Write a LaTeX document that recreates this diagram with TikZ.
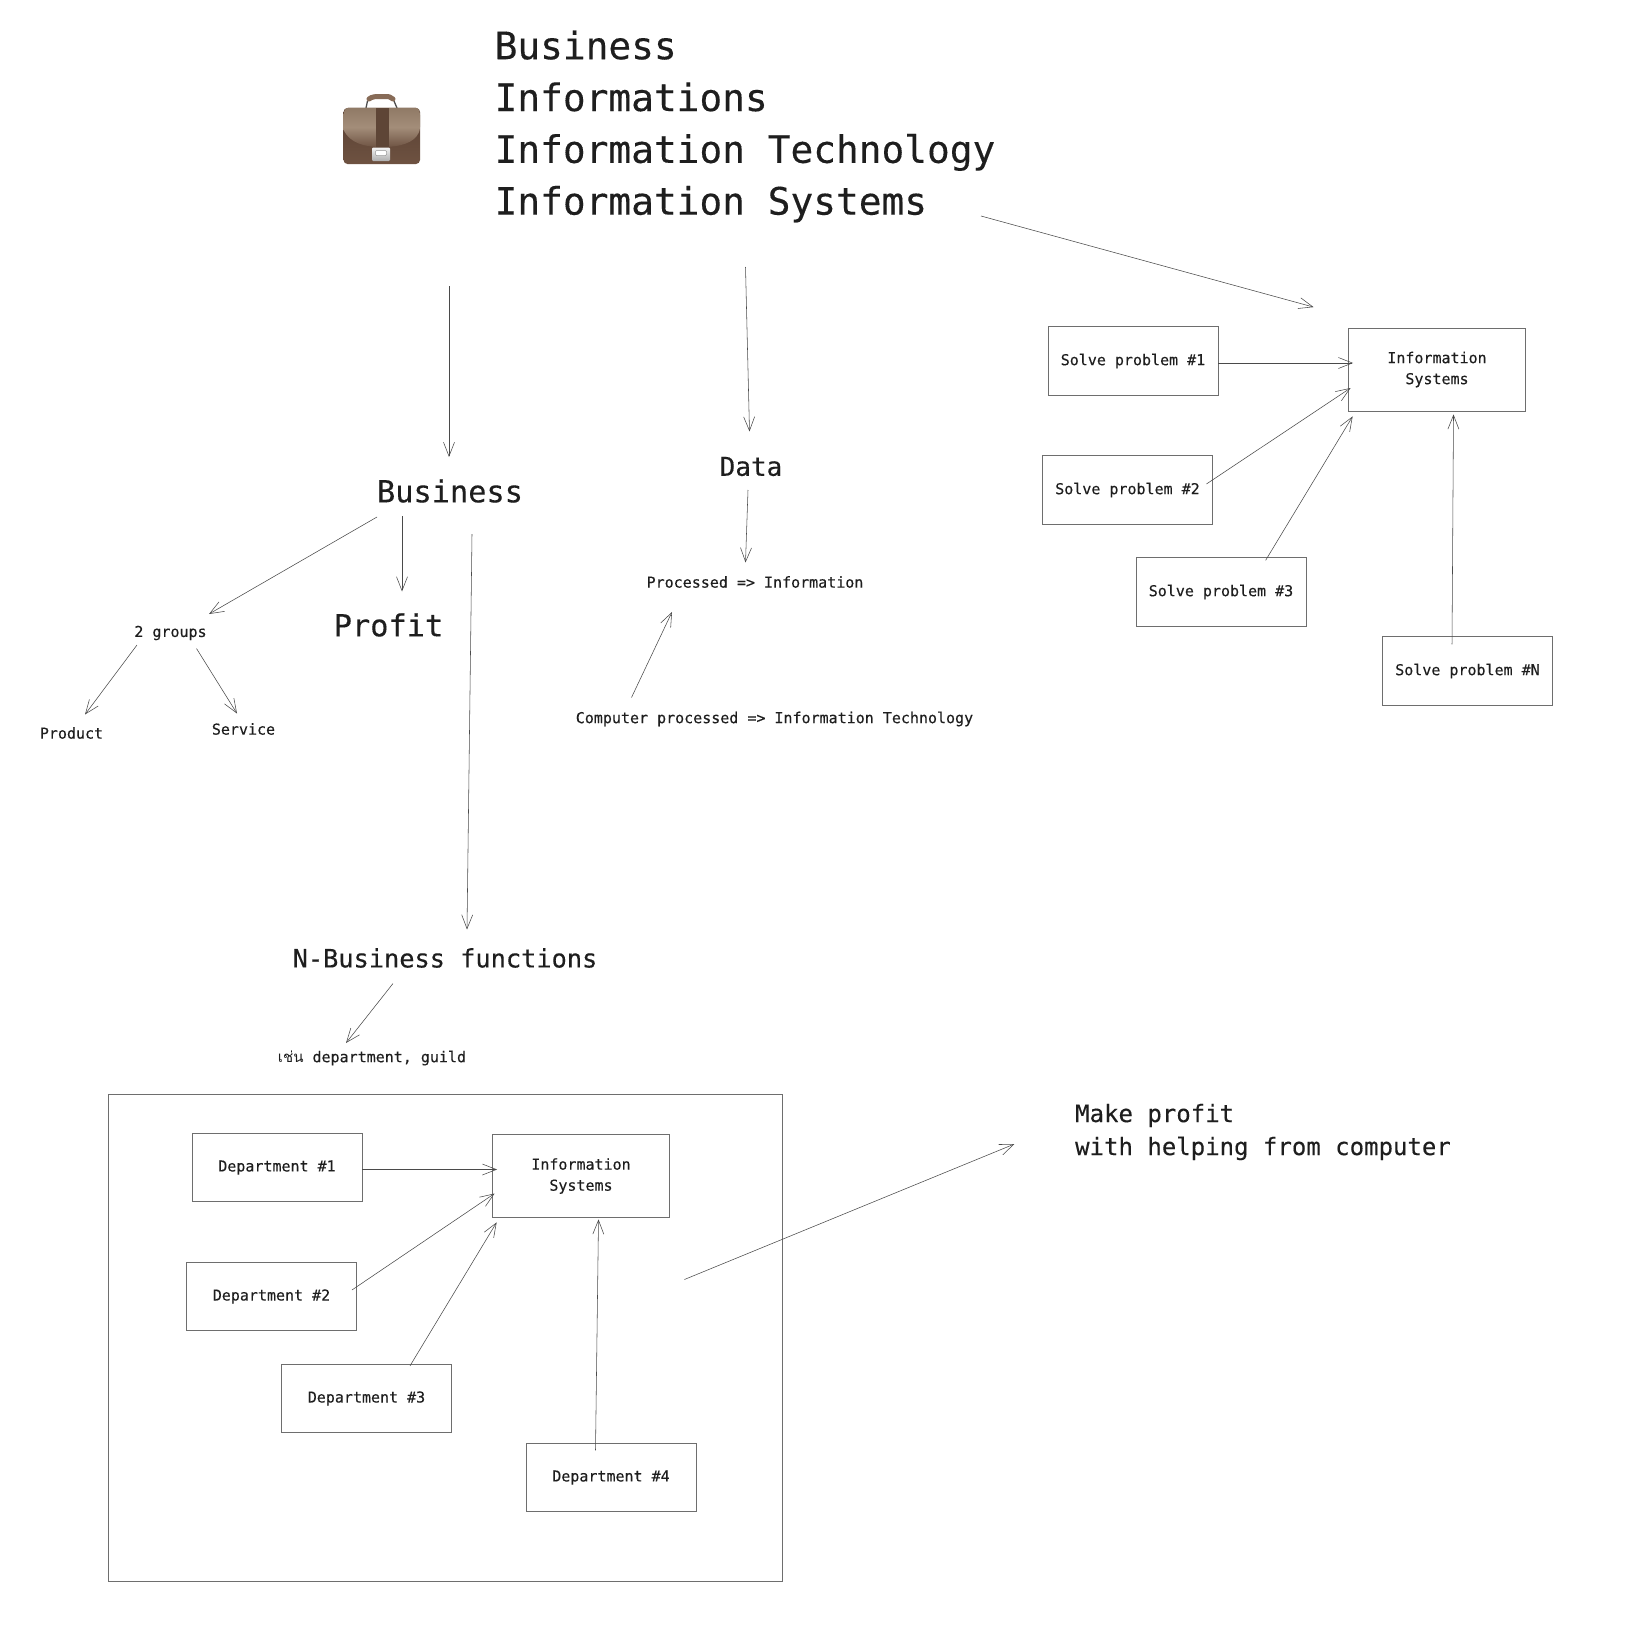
\documentclass[tikz,border=0pt]{standalone}
\usepackage{fontspec}
\setmainfont[FakeBold=0.25]{DejaVu Sans Mono}
\newfontfamily\thaifont[Script=Thai]{Loma}
\usetikzlibrary{arrows.meta}
\definecolor{ink}{HTML}{1E1E1E}
\definecolor{edge}{HTML}{4A4A4A}
\definecolor{boxline}{HTML}{6E6E6E}
\definecolor{caseTop}{HTML}{8F7966}
\definecolor{caseMid}{HTML}{A38D79}
\definecolor{caseFlap}{HTML}{6F5444}
\definecolor{caseLow}{HTML}{583F32}
\definecolor{caseBot}{HTML}{6E5241}
\definecolor{caseStrap}{HTML}{5E4536}
\definecolor{caseHandle}{HTML}{876B57}
\tikzset{
  x=1pt,y=-1pt,
  lbl/.style={inner sep=0pt,text=ink,align=center},
  fxxl/.style={font=\fontsize{37.8}{51.8}\selectfont},
  fxl/.style={font=\fontsize{30.3}{36}\selectfont},
  fl/.style={font=\fontsize{26}{32}\selectfont},
  fm/.style={font=\fontsize{25.3}{30}\selectfont},
  fn/.style={font=\fontsize{24}{33}\selectfont},
  fs/.style={font=\fontsize{15}{21}\selectfont},
  card/.style={draw=boxline,line width=0.8pt,inner sep=0pt,text=ink,align=center,font=\fontsize{15}{21}\selectfont,minimum width=170pt,minimum height=68.5pt},
  iscard/.style={card,minimum width=177pt,minimum height=83pt},
  arr/.style={draw=edge,line width=0.55pt,-{Straight Barb[length=14pt,width=11pt,line width=0.55pt]}}
}
\begin{document}
\begin{tikzpicture}
\useasboundingbox (0,0) rectangle (1644,1630);
\fill[white] (0,0) rectangle (1644,1630);

% briefcase
\draw[line width=1.3pt,draw=black!70] (366,108) -- (367.5,101) (397,108) -- (394,101);
\draw[line width=5pt,draw=caseHandle,line cap=round] (369,99) .. controls (372,96.5) and (376,96.5) .. (380,96.5) -- (384,96.5) .. controls (388,96.5) and (391,96.5) .. (393,99);
\path[rounded corners=4pt,top color=caseLow,bottom color=caseBot] (343.5,108) rectangle (420,164);
\path[top color=caseTop,bottom color=caseFlap,middle color=caseMid,rounded corners=3pt] (343.5,130) -- (343.5,112) -- (346,107.5) -- (418,107.5) -- (420,112) -- (420,130) [sharp corners] .. controls (414,143) and (400,147) .. (382,147) .. controls (364,147) and (350,143) .. (343.5,130) -- cycle;
\fill[caseStrap] (375.5,107.5) rectangle (388.5,148);
\path[rounded corners=1.2pt,top color=black!5,bottom color=black!32] (372,147.5) rectangle (390,161);
\fill[white,rounded corners=1pt] (375.5,150.5) rectangle (386.5,155.5);
\draw[black!40,line width=0.5pt,rounded corners=1pt] (375.5,150.5) rectangle (386.5,155.5);

% title
\node[lbl,fxxl,align=left] (title) at (745,126.5) {Business\\Informations\\Information Technology\\Information Systems};

% upper text nodes
\node[lbl,fxl] (biz) at (450,491) {Business};
\node[lbl,fxl] (profit) at (388.5,625) {Profit};
\node[lbl,fl] (data) at (751,466.5) {Data};
\node[lbl,fs] (processed) at (755,582) {Processed => Information};
\node[lbl,fs] (computer) at (774.5,719) {Computer processed => Information Technology};
\node[lbl,fs] (groups) at (170.5,633) {2 groups};
\node[lbl,fs] (product) at (71.5,733) {Product};
\node[lbl,fs] (service) at (243.5,729) {Service};
\node[lbl,fm] (nbiz) at (445,958) {N-Business functions};
\node[lbl,fs] (eg) at (372,1058) {{\thaifont เช่น} department, guild};
\node[lbl,fn,align=left] (make) at (1263,1132) {Make profit\\with helping from computer};

% upper right boxes
\node[iscard] (is) at (1437,369.5) {Information\\Systems};
\node[card] (s1) at (1133,361) {Solve problem \#1};
\node[card] (s2) at (1127.5,490) {Solve problem \#2};
\node[card] (s3) at (1221,592) {Solve problem \#3};
\node[card] (sn) at (1467.5,671) {Solve problem \#N};

% lower frame and boxes
\node[draw=boxline,line width=0.8pt,minimum width=674pt,minimum height=487pt,inner sep=0pt] (big) at (445.5,1338) {};
\node[iscard] (is2) at (581,1176) {Information\\Systems};
\node[card] (d1) at (277,1167.5) {Department \#1};
\node[card] (d2) at (271.5,1296.5) {Department \#2};
\node[card] (d3) at (366.5,1398.5) {Department \#3};
\node[card] (d4) at (611,1477.5) {Department \#4};

% connectors
\draw[arr] ([shift={(-296,159.5)}]title.center) -- ([shift={(-1,-34)}]biz.center);
\draw[arr] ([shift={(0.5,140.5)}]title.center) -- ([shift={(-1.5,-35)}]data.center);
\draw[arr] ([shift={(236,89.5)}]title.center) -- ([shift={(-34.5,-20.5)}]is.north west);
\draw[arr] ([shift={(-73,26)}]biz.center) -- ([shift={(38.5,-19)}]groups.center);
\draw[arr] ([shift={(-48,25)}]biz.center) -- ([shift={(13.5,-33.5)}]profit.center);
\draw[arr] ([shift={(22,43)}]biz.center) -- ([shift={(22,-28.5)}]nbiz.center);
\draw[arr] ([shift={(-33.5,12)}]groups.center) -- ([shift={(13.5,-18.5)}]product.center);
\draw[arr] ([shift={(26,15.5)}]groups.center) -- ([shift={(-6.5,-15.5)}]service.center);
\draw[arr] ([shift={(-3,23.5)}]data.center) -- ([shift={(-9.5,-19.5)}]processed.center);
\draw[arr] ([shift={(-143,-21.5)}]computer.center) -- ([shift={(-83,30)}]processed.center);
\draw[arr] ([shift={(-52,25.5)}]nbiz.center) -- ([shift={(-26,-15)}]eg.center);

\draw[arr] ([shift={(0,2)}]s1.east) -- ([shift={(5,-6.5)}]is.west);
\draw[arr] ([shift={(-6.5,-6)}]s2.east) -- ([shift={(2.5,18.5)}]is.west);
\draw[arr] ([shift={(44.6,3)}]s3.north) -- ([shift={(4.5,5)}]is.south west);
\draw[arr] ([shift={(-15.5,8)}]sn.north) -- ([shift={(16.5,3)}]is.south);

\draw[arr] ([shift={(0,2)}]d1.east) -- ([shift={(5,-6.5)}]is2.west);
\draw[arr] ([shift={(-5,-6.5)}]d2.east) -- ([shift={(2.5,17.5)}]is2.west);
\draw[arr] ([shift={(43.5,2)}]d3.north) -- ([shift={(4.5,4.5)}]is2.south west);
\draw[arr] ([shift={(-15.5,7.5)}]d4.north) -- ([shift={(17.5,1.5)}]is2.south);

\draw[arr] ([shift={(-98.5,-58.5)}]big.east) -- ([shift={(-60.5,12)}]make.west);
\end{tikzpicture}
\end{document}
